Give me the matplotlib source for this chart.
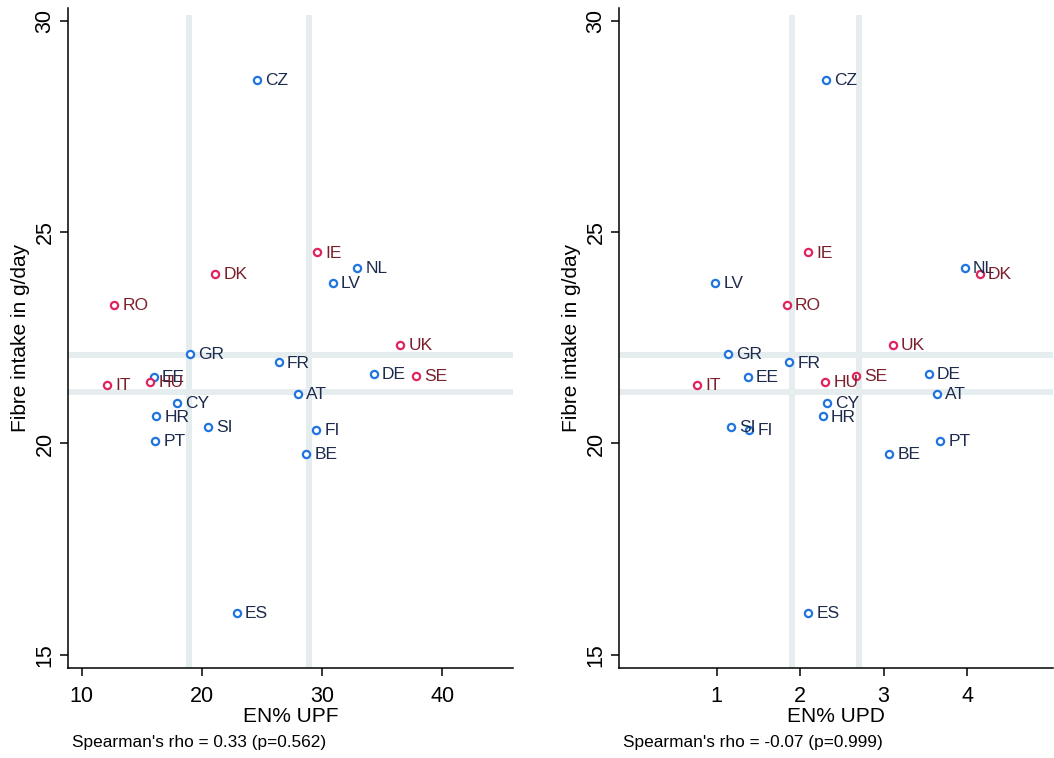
import matplotlib
matplotlib.use("Agg")
from matplotlib import pyplot as plt

plt.rcParams['font.family'] = ['Liberation Sans', 'DejaVu Sans']

countries = ['CZ', 'IE', 'NL', 'LV', 'DK', 'RO', 'GR', 'UK', 'FR', 'DE', 'SE',
             'IT', 'EE', 'HU', 'AT', 'CY', 'HR', 'SI', 'FI', 'PT', 'BE', 'ES']

fibre = [28.60, 24.52, 24.16, 23.79, 24.02, 23.27, 22.12, 22.34, 21.92, 21.64,
         21.60, 21.39, 21.57, 21.45, 21.18, 20.96, 20.64, 20.40, 20.32, 20.07,
         19.75, 15.99]

upf = [24.6, 29.6, 32.9, 30.9, 21.1, 12.7, 19.0, 36.5, 26.4, 34.3, 37.8,
       12.1, 16.0, 15.7, 28.0, 17.9, 16.2, 20.5, 29.5, 16.1, 28.7, 22.9]

upd = [2.31, 2.09, 3.97, 0.98, 4.15, 1.84, 1.13, 3.11, 1.87, 3.54, 2.67,
       0.76, 1.37, 2.30, 3.64, 2.32, 2.27, 1.17, 1.39, 3.68, 3.07, 2.10]

# countries drawn in red
highlight = ['IE', 'DK', 'RO', 'UK', 'SE', 'IT', 'HU']

fibre_cuts = [22.10, 21.21]
upf_cuts = [18.95, 28.9]
upd_cuts = [1.905, 2.70]

rho_upf = "Spearman's rho = 0.33 (p=0.562)"
rho_upd = "Spearman's rho = -0.07 (p=0.999)"

blue, blue_txt = '#1f74e0', '#1c2a4c'
red, red_txt = '#e0245e', '#7b1e2c'
band = '#e6edef'

fig = plt.figure(figsize=(10.54, 7.58), dpi=100)
W, H = 1054, 758


def panel(left, right, xs, cuts, xlim, xticks, xlabel, note):
    ax = fig.add_axes([left / W, 1 - 668 / H, (right - left) / W, 660 / H])
    for c in cuts:
        ax.axvline(c, ymin=0, ymax=0.985, color=band, lw=4.3, zorder=1)
    for c in fibre_cuts:
        ax.axhline(c, color=band, lw=4.3, zorder=1)
    for name, x, y in zip(countries, xs, fibre):
        mc, tc = (red, red_txt) if name in highlight else (blue, blue_txt)
        ax.plot(x, y, 'o', ms=5.2, mfc='white', mec=mc, mew=1.6, zorder=3)
        ax.annotate(name, (x, y), xytext=(6, -0.5), textcoords='offset points',
                    va='center', ha='left', fontsize=12.5, color=tc, zorder=4)
    ax.set_xlim(*xlim)
    ax.set_ylim(14.69, 30.3)
    ax.set_xticks(xticks)
    ax.set_yticks([15, 20, 25, 30])
    for s in ['top', 'right']:
        ax.spines[s].set_visible(False)
    for s in ['left', 'bottom']:
        ax.spines[s].set_linewidth(1.1)
    ax.tick_params(direction='out', length=6, width=1.1, labelsize=15.5)
    ax.tick_params(axis='x', pad=7)
    ax.tick_params(axis='y', pad=3)
    for lab in ax.get_yticklabels():
        lab.set_rotation(90)
        lab.set_va('center')
    ax.set_xlabel(xlabel, fontsize=15, labelpad=0)
    ax.set_ylabel('Fibre intake in g/day', fontsize=15, labelpad=3)
    fig.text((left + 4) / W, 1 - 743 / H, note, fontsize=12.4, ha='left',
             va='center')
    return ax


panel(68, 513, upf, upf_cuts, (8.86, 45.9), [10, 20, 30, 40], 'EN% UPF',
      rho_upf)
panel(619, 1053, upd, upd_cuts, (-0.17, 5.03), [1, 2, 3, 4], 'EN% UPD',
      rho_upd)

plt.savefig('out.png', dpi=100)
